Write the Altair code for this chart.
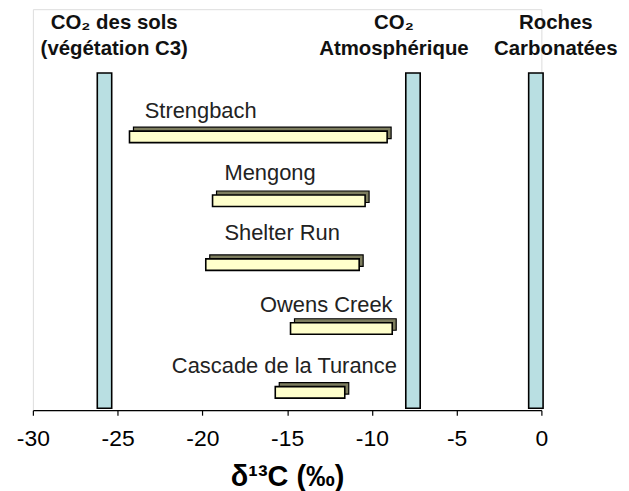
import altair as alt
import pandas as pd

# --- data -------------------------------------------------------------
sites = ["Strengbach", "Mengong", "Shelter Run", "Owens Creek", "Cascade de la Turance"]
rows = [5, 4, 3, 2, 1]
d13c_min = [-24.3, -19.4, -19.8, -14.8, -15.7]
d13c_max = [-9.1, -10.4, -10.75, -8.8, -11.6]
label_x = [-23.4, -18.7, -18.7, -16.6, -21.8]
label_dy = [0.41, 0.44, 0.49, 0.37, 0.41]

ref_min = [-26.2, -8.0, -0.75]
ref_max = [-25.35, -7.15, 0.1]
ref_bottom = 0.75
ref_top = 6.0
header_line1 = ["CO₂  des sols", "CO₂", "Roches"]
header_line2 = ["(végétation C3)", "Atmosphérique", "Carbonatées"]
header_x = [-25.2, -8.7, 0.85]
header_y1 = 6.78
header_y2 = 6.38

x_ticks = [-30, -25, -20, -15, -10, -5, 0]
half_h = 0.09

FONT = "Liberation Sans"

bars = pd.DataFrame({
    "site": sites,
    "row": rows,
    "lo": d13c_min,
    "hi": d13c_max,
    "lx": label_x,
})
bars["y0"] = bars["row"] - half_h
bars["y1"] = bars["row"] + half_h
bars["ly"] = [r + d for r, d in zip(rows, label_dy)]

refs = pd.DataFrame({
    "lo": ref_min,
    "hi": ref_max,
    "b": [ref_bottom] * 3,
    "t": [ref_top] * 3,
})

heads = pd.DataFrame({
    "x": header_x * 2,
    "y": [header_y1] * 3 + [header_y2] * 3,
    "txt": header_line1 + header_line2,
})

xscale = alt.Scale(domain=[-30, 0], nice=False, zero=False)
yscale = alt.Scale(domain=[0.72, 7.0], nice=False, zero=False)

xaxis = alt.Axis(
    values=x_ticks, title="δ¹³C (‰)", grid=False,
    labelFontSize=23, labelFont=FONT, labelColor="#000", labelFlush=False,
    labelExpr="replace(datum.label, '−', '-')",
    titleFontSize=29, titleFont=FONT, titleFontWeight="bold", titleColor="#000",
    tickSize=5, tickColor="#000", domainColor="#000", domainWidth=1.2, tickWidth=1.2,
    labelPadding=12, titlePadding=13,
)

ref_layer = alt.Chart(refs).mark_rect(
    fill="#b9dfe2", stroke="#000", strokeWidth=1.6
).encode(
    x=alt.X("lo:Q", scale=xscale, axis=xaxis),
    x2="hi:Q",
    y=alt.Y("b:Q", scale=yscale, axis=None),
    y2="t:Q",
)

back_layer = alt.Chart(bars).mark_rect(
    fill="#7d7d5e", stroke="#000", strokeWidth=1.2,
    xOffset=4, x2Offset=4, yOffset=-4, y2Offset=-4,
).encode(
    x=alt.X("lo:Q", scale=xscale, axis=xaxis),
    x2="hi:Q",
    y=alt.Y("y0:Q", scale=yscale, axis=None),
    y2="y1:Q",
)

front_layer = alt.Chart(bars).mark_rect(
    fill="#ffffcc", stroke="#000", strokeWidth=1.6
).encode(
    x=alt.X("lo:Q", scale=xscale, axis=xaxis),
    x2="hi:Q",
    y=alt.Y("y0:Q", scale=yscale, axis=None),
    y2="y1:Q",
)

label_layer = alt.Chart(bars).mark_text(
    align="left", baseline="middle", font=FONT, fontSize=22, color="#222"
).encode(
    x=alt.X("lx:Q", scale=xscale, axis=xaxis),
    y=alt.Y("ly:Q", scale=yscale, axis=None),
    text="site:N",
)

head_layer = alt.Chart(heads).mark_text(
    align="center", baseline="middle", font=FONT, fontSize=20.5,
    fontWeight="bold", color="#111"
).encode(
    x=alt.X("x:Q", scale=xscale, axis=xaxis),
    y=alt.Y("y:Q", scale=yscale, axis=None),
    text="txt:N",
)

chart = alt.layer(
    ref_layer, back_layer, front_layer, label_layer, head_layer
).properties(
    width=511, height=403,
    autosize=alt.AutoSizeParams(type="none"),
    padding={"left": 25, "top": 0, "right": 80, "bottom": 80},
).configure_view(stroke=None).configure(background="white")

chart.save("out.html", embed_options={"renderer": "svg", "actions": False})
